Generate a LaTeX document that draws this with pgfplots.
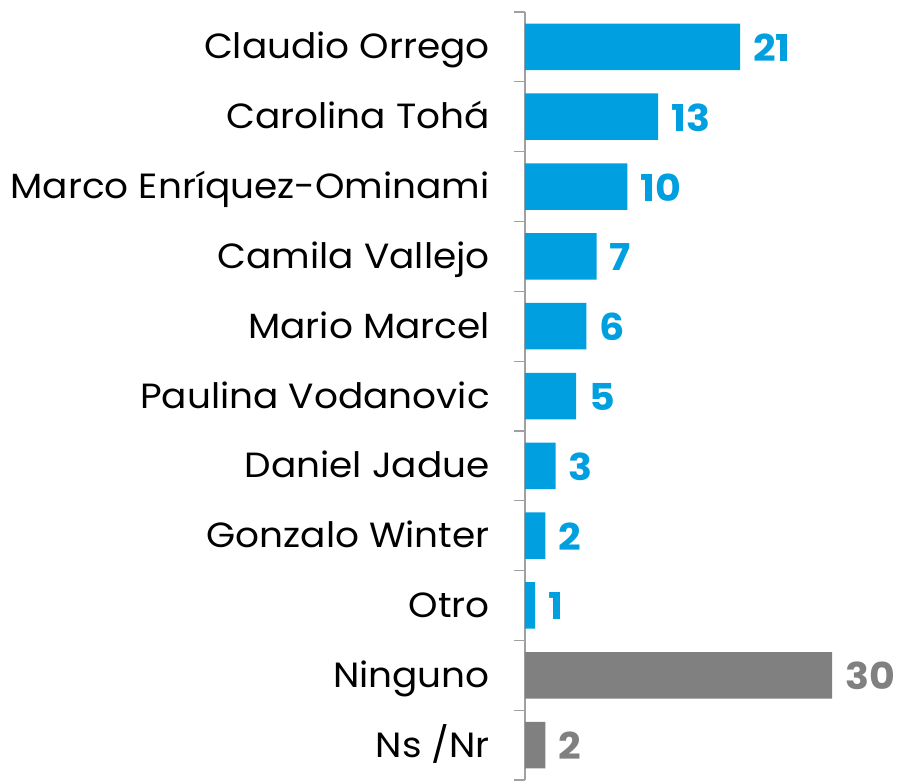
\documentclass[border=0pt]{standalone}
\usepackage{pgfplots}
\pgfplotsset{compat=1.18}
\usepackage{fontspec}
\setmainfont{Poppins}[FakeStretch=1.07]
\definecolor{barblue}{HTML}{009FE0}
\definecolor{bargray}{HTML}{808080}
\definecolor{axisgray}{HTML}{A0A0A0}

\begin{document}
\begin{tikzpicture}
\begin{axis}[
at={(0pt,0pt)}, anchor=south west,
scale only axis,
width=373.8pt, height=768pt,
xmin=0, xmax=36.5,
ymin=-0.5, ymax=10.5, y dir=reverse,
xbar, bar width=46.5pt, bar shift=0pt,
axis x line=none,
axis y line*=left,
y axis line style={axisgray, line width=1.2pt},
ytick={0,...,10},
yticklabels={Claudio Orrego, Carolina Tohá, Marco Enríquez-Ominami, Camila Vallejo, Mario Marcel, Paulina Vodanovic, Daniel Jadue, Gonzalo Winter, Otro, Ninguno, Ns /Nr},
major tick length=0pt,
minor ytick={-0.5,0.5,...,10.5},
minor tick length=11pt,
tick align=outside,
tick style={axisgray, line width=1.2pt},
yticklabel style={font=\fontsize{35}{35}\selectfont, text=black, inner sep=0pt, anchor=base east, xshift=-35pt, yshift=-12pt},
nodes near coords={\pgfplotspointmeta},
point meta=explicit symbolic,
every node near coord/.append style={font=\fontsize{37}{37}\selectfont\bfseries, anchor=west, xshift=13pt, yshift=-1pt, inner sep=0pt},
]
\addplot[fill=barblue, draw=none, every node near coord/.append style={text=barblue}] coordinates {
(21,0) [21]
(13,1) [13]
(10,2) [10]
(7,3) [7]
(6,4) [6]
(5,5) [5]
(3,6) [3]
(2,7) [2]
(1,8) [1]
};
\addplot[fill=bargray, draw=none, every node near coord/.append style={text=bargray}] coordinates {
(30,9) [30]
(2,10) [2]
};
\end{axis}
\pgfresetboundingbox
\useasboundingbox (-525pt,0pt) rectangle (374pt,780pt);
\end{tikzpicture}
\end{document}
